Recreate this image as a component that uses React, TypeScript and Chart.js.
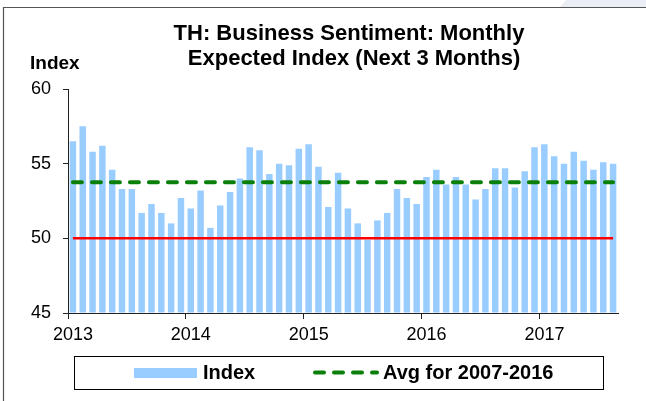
import React, { useEffect, useRef } from "react";
import { Chart, registerables } from "chart.js";

Chart.register(...registerables);

// ---------- data ----------
const TITLE_LINES = ["TH: Business Sentiment: Monthly", " Expected Index (Next 3 Months)"];
const Y_AXIS_LABEL = "Index";
const YEAR_LABELS = ["2013", "2014", "2015", "2016", "2017"];
const MONTHS_PER_YEAR = 12;
const Y_MIN = 45;
const Y_MAX = 60;
const Y_STEP = 5;

// Monthly expected index, Jan 2013 - Aug 2017
const INDEX_2013 = [56.5, 57.5, 55.8, 56.2, 54.6, 53.3, 53.3, 51.7, 52.3, 51.7, 51.0, 52.7];
const INDEX_2014 = [52.0, 53.2, 50.7, 52.2, 53.1, 54.0, 56.1, 55.9, 54.3, 55.0, 54.9, 56.0];
const INDEX_2015 = [56.3, 54.8, 52.1, 54.4, 52.0, 51.0, 49.9, 51.2, 51.7, 53.3, 52.7, 52.3];
const INDEX_2016 = [54.1, 54.6, 53.6, 54.1, 53.6, 52.6, 53.3, 54.7, 54.7, 53.4, 54.5, 56.1];
const INDEX_2017 = [56.3, 55.5, 55.0, 55.8, 55.2, 54.6, 55.1, 55.0];
const INDEX_VALUES = [...INDEX_2013, ...INDEX_2014, ...INDEX_2015, ...INDEX_2016, ...INDEX_2017];

const AVG_2007_2016 = 53.75;
const NEUTRAL_LEVEL = 50;
const LEGEND_LABELS = ["Index", "Avg for 2007-2016"];

// ---------- styles ----------
const FONT = '"Liberation Sans", Arial, Helvetica, sans-serif';
const BAR_COLOR = "#99ccff";
const AVG_COLOR = "#0a800a";
const NEUTRAL_COLOR = "#ff0000";
const AXIS_COLOR = "#222222";

const decorPlugin = {
  id: "decor",
  beforeDraw(chart: any) {
    const ctx = chart.ctx;
    const w = chart.width;
    const h = chart.height;
    ctx.save();
    ctx.fillStyle = "#ffffff";
    ctx.fillRect(0, 0, w, h);
    // top-right faint shape
    ctx.fillStyle = "#eceef6";
    ctx.beginPath();
    ctx.moveTo(566, 0);
    ctx.lineTo(w, 0);
    ctx.lineTo(w, 7);
    ctx.lineTo(560, 7);
    ctx.closePath();
    ctx.fill();
    // frame
    ctx.strokeStyle = "#555555";
    ctx.lineWidth = 1.2;
    ctx.beginPath();
    ctx.moveTo(3.5, h);
    ctx.lineTo(3.5, 7.5);
    ctx.lineTo(w, 7.5);
    ctx.stroke();
    ctx.restore();
  },
  afterDraw(chart: any) {
    const ctx = chart.ctx;
    ctx.save();
    ctx.fillStyle = "#000000";
    ctx.textBaseline = "alphabetic";
    // title
    ctx.font = `bold 22px ${FONT}`;
    ctx.textAlign = "center";
    ctx.fillText(TITLE_LINES[0], 349, 40);
    ctx.fillText(TITLE_LINES[1], 351, 65);
    // axis label
    ctx.font = `bold 19px ${FONT}`;
    ctx.textAlign = "left";
    ctx.fillText(Y_AXIS_LABEL, 30, 69);
    // legend box
    ctx.strokeStyle = "#000000";
    ctx.lineWidth = 1;
    ctx.strokeRect(74.5, 356.5, 529, 33);
    ctx.fillStyle = BAR_COLOR;
    ctx.fillRect(134, 368, 63, 10);
    ctx.fillStyle = "#000000";
    ctx.font = `bold 20px ${FONT}`;
    ctx.fillText(LEGEND_LABELS[0], 203, 379);
    ctx.strokeStyle = AVG_COLOR;
    ctx.lineWidth = 4;
    ctx.lineCap = "round";
    ctx.setLineDash([9, 10]);
    ctx.beginPath();
    ctx.moveTo(315, 372.5);
    ctx.lineTo(377, 372.5);
    ctx.stroke();
    ctx.setLineDash([]);
    ctx.fillText(LEGEND_LABELS[1], 383, 379);
    ctx.restore();
  },
};

export default function App() {
  const canvasRef = useRef<HTMLCanvasElement | null>(null);

  useEffect(() => {
    document.body.style.margin = "0";
    const canvas = canvasRef.current;
    if (!canvas) return;

    const barData = INDEX_VALUES.map((v, i) => ({ x: i + 0.5, y: v }));
    const avgData = INDEX_VALUES.map((_, i) => ({ x: i + 0.5, y: AVG_2007_2016 }));
    const neutralData = INDEX_VALUES.map((_, i) => ({ x: i + 0.5, y: NEUTRAL_LEVEL }));

    const chart = new Chart(canvas, {
      type: "bar",
      data: {
        datasets: [
          {
            type: "line",
            label: LEGEND_LABELS[1],
            data: avgData,
            borderColor: AVG_COLOR,
            borderWidth: 4,
            borderDash: [9, 10],
            borderCapStyle: "round",
            pointRadius: 0,
            fill: false,
            order: 0,
          } as any,
          {
            type: "line",
            label: "50",
            data: neutralData,
            borderColor: NEUTRAL_COLOR,
            borderWidth: 2.5,
            pointRadius: 0,
            fill: false,
            order: 1,
          } as any,
          {
            type: "bar",
            label: LEGEND_LABELS[0],
            data: barData,
            backgroundColor: BAR_COLOR,
            barPercentage: 0.66,
            categoryPercentage: 1,
            base: Y_MIN,
            order: 2,
          } as any,
        ],
      },
      options: {
        responsive: false,
        animation: false,
        events: [],
        layout: { padding: { top: 89, right: 28, left: 0, bottom: 0 } },
        plugins: {
          legend: { display: false },
          title: { display: false },
          tooltip: { enabled: false },
        },
        scales: {
          x: {
            type: "linear",
            min: 0,
            max: INDEX_VALUES.length,
            offset: false,
            ticks: {
              stepSize: MONTHS_PER_YEAR,
              includeBounds: false,
              autoSkip: false,
              maxRotation: 0,
              labelOffset: 5,
              padding: 5,
              color: "#000000",
              font: { family: FONT, size: 18 },
              callback: (v: any) => YEAR_LABELS[Math.round(Number(v) / MONTHS_PER_YEAR)] ?? "",
            },
            grid: {
              offset: false,
              drawOnChartArea: false,
              drawTicks: true,
              tickLength: 6,
              color: AXIS_COLOR,
            },
            border: { color: AXIS_COLOR, width: 1 },
            afterFit: (s: any) => {
              s.height = 88;
            },
          },
          y: {
            min: Y_MIN,
            max: Y_MAX,
            ticks: {
              stepSize: Y_STEP,
              padding: 12,
              color: "#000000",
              font: { family: FONT, size: 18 },
            },
            grid: { drawOnChartArea: false, drawTicks: true, tickLength: 5, color: AXIS_COLOR },
            border: { color: AXIS_COLOR, width: 1 },
            afterFit: (s: any) => {
              s.width = 68;
            },
          },
        },
      } as any,
      plugins: [decorPlugin],
    });

    return () => chart.destroy();
  }, []);

  return (
    <div style={{ position: "absolute", left: 0, top: 0, width: 646, height: 401 }}>
      <canvas ref={canvasRef} width={646} height={401} style={{ display: "block" }} />
    </div>
  );
}
